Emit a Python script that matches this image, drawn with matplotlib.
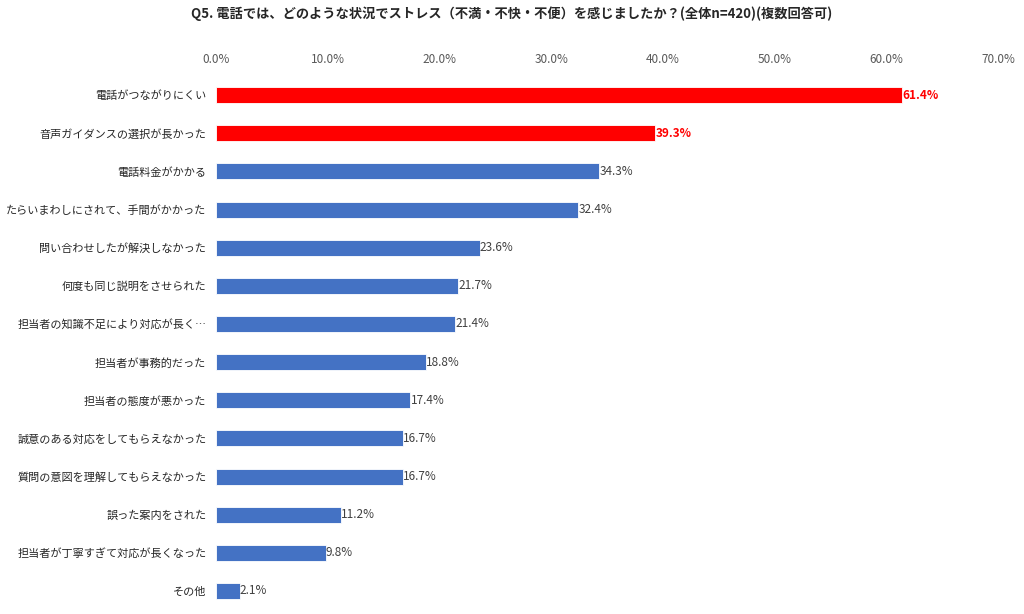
import matplotlib.pyplot as plt
from matplotlib.ticker import PercentFormatter

plt.rcParams['font.family'] = ['Noto Sans CJK JP', 'DejaVu Sans']

categories = [
    "電話がつながりにくい",
    "音声ガイダンスの選択が長かった",
    "電話料金がかかる",
    "たらいまわしにされて、手間がかかった",
    "問い合わせしたが解決しなかった",
    "何度も同じ説明をさせられた",
    "担当者の知識不足により対応が長く…",
    "担当者が事務的だった",
    "担当者の態度が悪かった",
    "誠意のある対応をしてもらえなかった",
    "質問の意図を理解してもらえなかった",
    "誤った案内をされた",
    "担当者が丁寧すぎて対応が長くなった",
    "その他",
]
values = [61.4, 39.3, 34.3, 32.4, 23.6, 21.7, 21.4, 18.8, 17.4, 16.7, 16.7, 11.2, 9.8, 2.1]
highlight = [True, True] + [False] * 12

red = "#FF0000"
blue = "#4472C4"
colors = [red if h else blue for h in highlight]

fig = plt.figure(figsize=(10.24, 6.14), dpi=100)
ax = fig.add_axes([0.211, 0.0065, 0.7636, 0.8697])

ypos = list(range(len(categories)))
ax.barh(ypos, values, height=0.42, color=colors, edgecolor="white", linewidth=0.6)

for y, v, h in zip(ypos, values, highlight):
    ax.text(v + 0.02, y, f"{v:.1f}%", va="center", ha="left", fontsize=8.5,
            color=red if h else "#404040", fontweight="bold" if h else "normal")

ax.set_yticks(ypos)
ax.set_yticklabels(categories, fontsize=8, color="#262626")
ax.set_ylim(13.5, -0.5)
ax.set_xlim(0, 70)
ax.set_xticks(range(0, 71, 10))
ax.xaxis.set_major_formatter(PercentFormatter(decimals=1))
ax.xaxis.tick_top()
ax.tick_params(axis="x", length=0, pad=7, labelsize=8.5, labelcolor="#595959")
ax.tick_params(axis="y", length=0, pad=7)
for s in ax.spines.values():
    s.set_visible(False)

fig.text(0.5, 0.978, "Q5. 電話では、どのような状況でストレス（不満・不快・不便）を感じましたか？(全体n=420)(複数回答可)",
         ha="center", va="center", fontsize=9.5, fontweight="bold", color="#262626")

fig.savefig("out.png", dpi=100)
